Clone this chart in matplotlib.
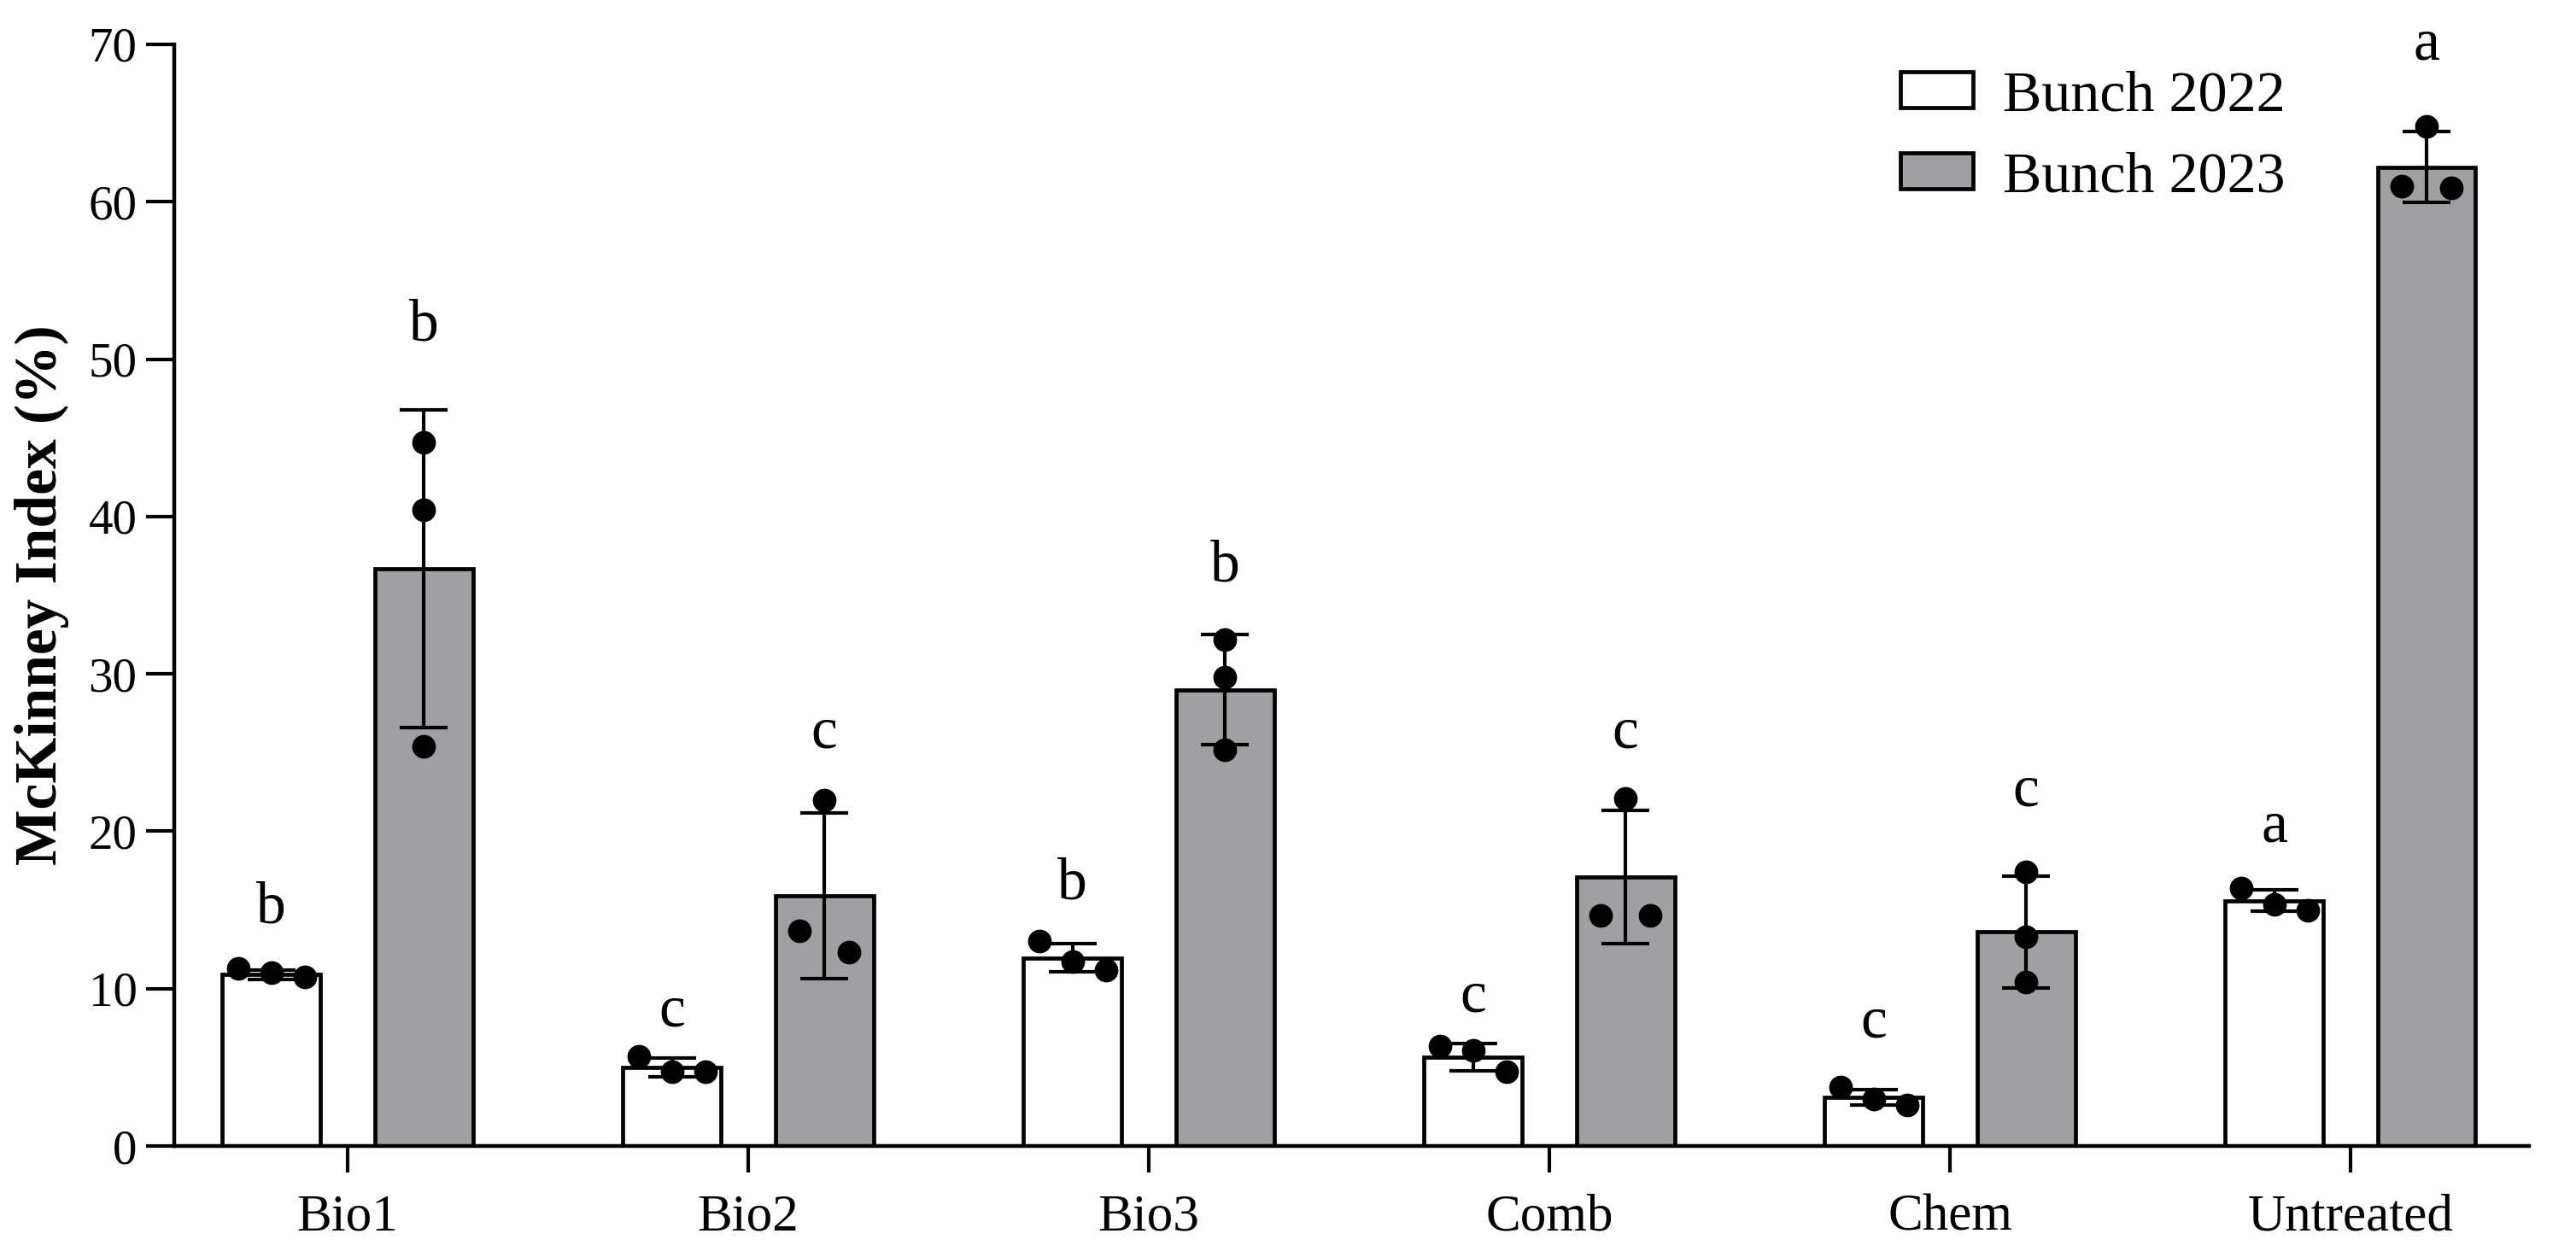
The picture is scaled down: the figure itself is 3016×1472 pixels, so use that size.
import numpy as np
import matplotlib
matplotlib.use('Agg')
import matplotlib.pyplot as plt

plt.rcParams['font.family'] = ['Liberation Serif', 'DejaVu Serif']

# data
categories = ['Bio1', 'Bio2', 'Bio3', 'Comb', 'Chem', 'Untreated']
series_names = ['Bunch 2022', 'Bunch 2023']

mean_2022 = [10.9, 5.0, 11.95, 5.65, 3.1, 15.6]
sd_2022 = [0.3, 0.6, 0.9, 0.85, 0.5, 0.7]
pts_2022 = [[11.3, 11.0, 10.75], [5.7, 4.7, 4.7], [13.0, 11.7, 11.2],
            [6.35, 6.1, 4.7], [3.75, 3.0, 2.6], [16.4, 15.35, 15.0]]
letters_2022 = ['b', 'c', 'b', 'c', 'c', 'a']
letter_y_2022 = [15.5, 8.5, 17.0, 9.4, 7.8, 20.2]

mean_2023 = [36.7, 15.9, 29.0, 17.1, 13.6, 62.2]
sd_2023 = [10.1, 5.25, 3.5, 4.25, 3.55, 2.25]
pts_2023 = [[44.7, 40.4, 25.4], [22.0, 13.7, 12.3], [32.2, 29.8, 25.2],
            [22.1, 14.65, 14.65], [17.4, 13.3, 10.4], [64.8, 61.0, 60.9]]
letters_2023 = ['b', 'c', 'b', 'c', 'c', 'a']
letter_y_2023 = [52.5, 26.2, 37.2, 26.2, 22.5, 69.9]

colors = ['white', '#a0a0a3']
bar_w = 0.245
offset = 0.19
x = np.arange(len(categories))


def spread(vals, w):
    # Prism-like horizontal spread of points that overlap in y
    order = np.argsort(vals)[::-1]
    groups, cur = [], [order[0]]
    for i in order[1:]:
        if vals[cur[-1]] - vals[i] < 2.0:
            cur.append(i)
        else:
            groups.append(cur)
            cur = [i]
    groups.append(cur)
    offs = np.zeros(len(vals))
    for g in groups:
        if len(g) == 2:
            offs[g] = [-0.25 * w, 0.25 * w]
        elif len(g) >= 3:
            offs[g] = np.linspace(-0.34 * w, 0.34 * w, len(g))
    return offs


fig = plt.figure(figsize=(15.08, 7.36), dpi=200)
ax = fig.add_axes([0.0676, 0.0883, 0.9142, 0.8764])

series = [(mean_2022, sd_2022, pts_2022, letters_2022, letter_y_2022),
          (mean_2023, sd_2023, pts_2023, letters_2023, letter_y_2023)]

for k, (means, sds, pts, lets, let_y) in enumerate(series):
    xs = x + (-offset if k == 0 else offset)
    ax.bar(xs, means, width=bar_w, color=colors[k], edgecolor='black',
           linewidth=1.7, zorder=2, label=series_names[k])
    ax.errorbar(xs, means, yerr=sds, fmt='none', ecolor='black',
                elinewidth=1.5, capsize=10, capthick=1.5, zorder=3)
    for xi, p in zip(xs, pts):
        offs = spread(np.array(p), bar_w)
        ax.plot(xi + offs, p, 'o', color='black', markersize=10,
                markeredgewidth=0, zorder=4)
    for xi, lab, ly in zip(xs, lets, let_y):
        h = 0.683 if lab == 'b' else 0.46
        ax.annotate(lab, (xi, ly), xytext=(0, -h * 25 / 2),
                    textcoords='offset points', ha='center', va='baseline',
                    fontsize=25)

ax.set_xlim(-0.433, 5.446)
ax.set_ylim(0, 70)
ax.set_yticks(np.arange(0, 71, 10))
ax.set_xticks(x)
ax.set_xticklabels(categories, fontsize=22)
ax.tick_params(axis='y', labelsize=20.5, length=12, width=1.5, pad=3.6)
ax.tick_params(axis='x', length=11, width=1.5, pad=9)
for s in ['top', 'right']:
    ax.spines[s].set_visible(False)
for s in ['left', 'bottom']:
    ax.spines[s].set_linewidth(1.6)
ax.set_ylabel('McKinney Index (%)', fontsize=25, fontweight='bold',
              labelpad=8)

ax.legend(loc='center left', bbox_to_anchor=(0.7377, 0.891),
          bbox_transform=fig.transFigure, frameon=False, fontsize=24.5,
          handlelength=1.25, handleheight=0.57, handletextpad=0.51,
          labelspacing=0.5, borderpad=0, borderaxespad=0)

fig.savefig('out.png', dpi=200)
